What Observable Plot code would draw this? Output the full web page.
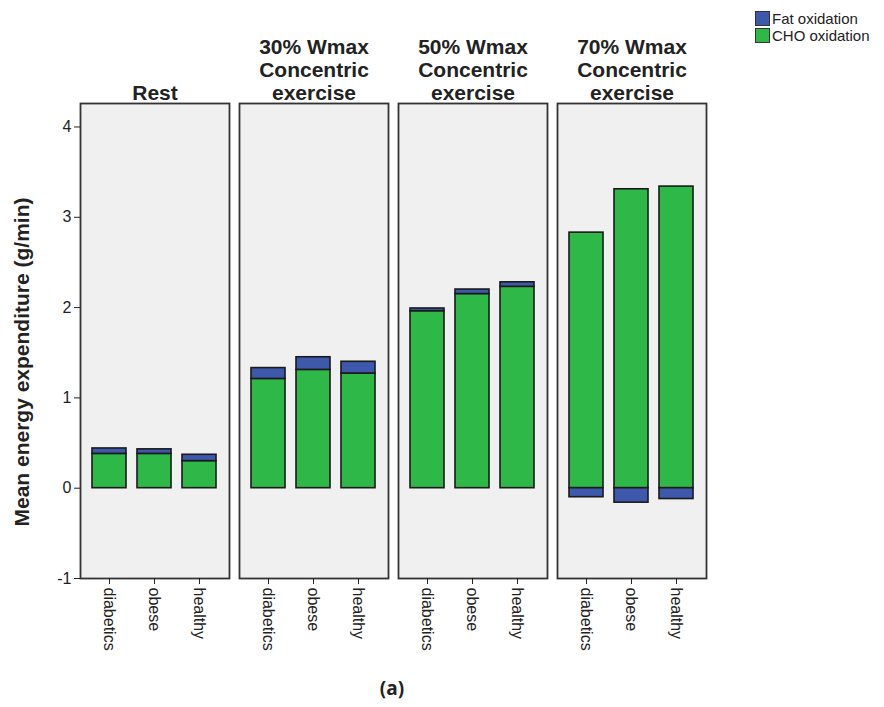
<!DOCTYPE html>
<html>
<head>
<meta charset="utf-8">
<script src="https://cdn.jsdelivr.net/npm/d3@7"></script>
<script src="https://cdn.jsdelivr.net/npm/@observablehq/plot@0.6"></script>
<style>
  body { margin: 0; background: #fff; }
  #wrap { position: relative; width: 884px; height: 707px; font-family: "Liberation Sans", Arial, sans-serif; }
  #legend { position: absolute; left: 755px; top: 10px; font-size: 15px; color: #222; }
  .row { display: flex; align-items: center; height: 17px; }
  .sw { width: 15px; height: 15px; border: 1px solid #333; margin-right: 2px; box-sizing: border-box; }
  #cap { position: absolute; left: 0; width: 784px; top: 675px; text-align: center; font-family: "Open Sans", sans-serif; font-weight: bold; font-size: 19px; color: #222; }
</style>
</head>
<body>
<div id="wrap">
  <div id="chart"></div>
  <div id="legend"></div>
  <div id="cap">(a)</div>
</div>
<script>
const phases = ["Rest", "30% Wmax\nConcentric\nexercise", "50% Wmax\nConcentric\nexercise", "70% Wmax\nConcentric\nexercise"];
const groups = ["diabetics", "obese", "healthy"];
const seriesNames = ["Fat oxidation", "CHO oxidation"];
const seriesColors = ["#3e58ac", "#2eb848"];
// values per phase, in group order
const choValues = [
  [0.38, 0.38, 0.30],
  [1.21, 1.31, 1.27],
  [1.96, 2.15, 2.23],
  [2.83, 3.31, 3.34]
];
const fatValues = [
  [0.06, 0.05, 0.07],
  [0.12, 0.14, 0.13],
  [0.03, 0.05, 0.05],
  [-0.10, -0.16, -0.12]
];
const yTicks = [-1, 0, 1, 2, 3, 4];
const yLabel = "Mean energy expenditure (g/min)";

const rows = [];
phases.forEach((p, i) => groups.forEach((g, j) => rows.push({phase: p, group: g, type: "CHO oxidation", value: choValues[i][j]})));
phases.forEach((p, i) => groups.forEach((g, j) => rows.push({phase: p, group: g, type: "Fat oxidation", value: fatValues[i][j]})));

const chart = Plot.plot({
  width: 884,
  height: 707,
  marginTop: 103,
  marginBottom: 129,
  marginLeft: 79,
  marginRight: 178,
  style: {fontFamily: "'Liberation Sans', Arial, sans-serif", color: "#222", background: "transparent"},
  fx: {domain: phases, paddingInner: 0.063, paddingOuter: 0},
  x: {domain: groups, paddingInner: 0.24, paddingOuter: 0.26},
  y: {domain: [-1, 4.26]},
  color: {domain: seriesNames, range: seriesColors},
  marks: [
    Plot.frame({fill: "#f0f0f0", stroke: "#333", strokeWidth: 1.8}),
    Plot.barY(rows, Plot.stackY({x: "group", y: "value", fill: "type", fx: "phase", order: null, stroke: "#1a1a1a", strokeWidth: 1.6})),
    Plot.axisY({anchor: "left", ticks: yTicks, tickFormat: d => String(d), tickSize: 6, tickPadding: 3, fontSize: 16, label: yLabel, labelAnchor: "center", labelArrow: "none", labelOffset: 66}),
    Plot.axisX({anchor: "bottom", tickRotate: 90, tickSize: 6, tickPadding: 3, fontSize: 16, label: null}),
    Plot.axisFx({anchor: "top", tickSize: 0, tickPadding: 4, fontSize: 21, fontWeight: "bold", lineHeight: 1.08, lineAnchor: "bottom", label: null})
  ]
});
document.getElementById("chart").appendChild(chart);
const lab = chart.querySelector('[aria-label="y-axis label"]');
if (lab) {
  lab.setAttribute("font-weight", "bold");
  lab.setAttribute("font-size", "21");
  const g = document.createElementNS("http://www.w3.org/2000/svg", "g");
  g.setAttribute("transform", "translate(0,21)");
  lab.parentNode.insertBefore(g, lab);
  g.appendChild(lab);
}

const leg = document.getElementById("legend");
seriesNames.forEach((n, i) => {
  const r = document.createElement("div"); r.className = "row";
  const s = document.createElement("div"); s.className = "sw"; s.style.background = seriesColors[i];
  const t = document.createElement("span"); t.textContent = n;
  r.appendChild(s); r.appendChild(t); leg.appendChild(r);
});
</script>
</body>
</html>
